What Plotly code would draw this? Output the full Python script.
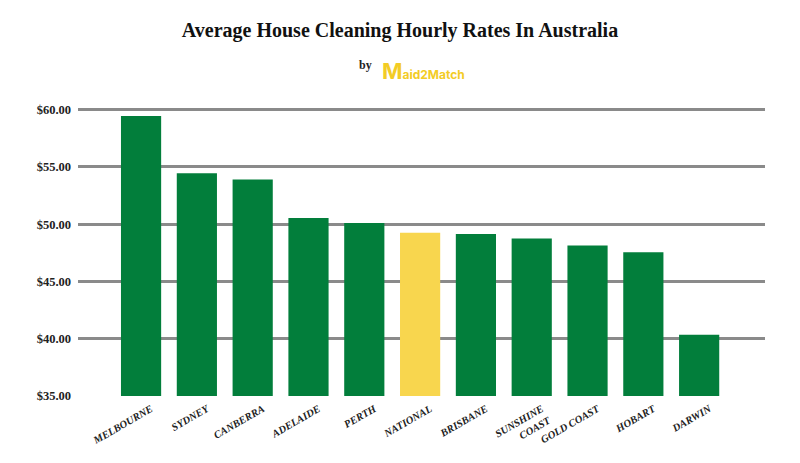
import plotly.graph_objects as go

# Data
cities = ["MELBOURNE", "SYDNEY", "CANBERRA", "ADELAIDE", "PERTH", "NATIONAL",
          "BRISBANE", "SUNSHINE<br>COAST", "GOLD COAST", "HOBART", "DARWIN"]
rates = [59.45, 54.45, 53.9, 50.55, 50.1, 49.25, 49.15, 48.75, 48.15, 47.55, 40.35]
tick_vals = [35, 40, 45, 50, 55, 60]
tick_text = ["$35.00", "$40.00", "$45.00", "$50.00", "$55.00", "$60.00"]

GREEN = "#027e3b"
YELLOW = "#f8d64e"
colors = [YELLOW if c == "NATIONAL" else GREEN for c in cities]
serif = "Liberation Serif, DejaVu Serif, serif"

fig = go.Figure(go.Bar(
    x=list(range(len(cities))), y=[r - 35 for r in rates], base=35,
    marker=dict(color=colors, line=dict(width=0)),
    width=0.72,
))

# page body adds an 8px offset, so margins are shifted to compensate
fig.update_layout(
    width=800, height=463,
    margin=dict(l=70, r=43, t=100, b=75, autoexpand=False),
    plot_bgcolor="white", paper_bgcolor="white",
    showlegend=False,
    font=dict(family=serif, color="#222"),
    title=dict(text="<b>Average House Cleaning Hourly Rates In Australia</b>",
               x=0.49, xanchor="center", y=0.952, yanchor="middle",
               font=dict(size=20, family=serif, color="#111")),
    xaxis=dict(range=[-1.13, 11.18], tickvals=list(range(len(cities))),
               ticktext=cities, tickangle=-30, showgrid=False, zeroline=False,
               automargin=False, ticklabelshift=10, ticklabelstandoff=4,
               tickfont=dict(size=10.5, family=serif, style="italic", weight="bold", color="#222")),
    yaxis=dict(range=[35, 60.15], tickvals=tick_vals, ticktext=tick_text,
               showgrid=True, gridcolor="#8a8a8a", gridwidth=3, zeroline=False,
               automargin=False, ticklabelstandoff=6,
               tickfont=dict(size=12.5, family=serif, weight="bold", color="#222")),
)

# "by Maid2Match" logo line
fig.add_annotation(text="by", x=0.419, y=1.179, xref="paper", yref="paper",
                   showarrow=False, font=dict(size=12, family=serif, weight="bold", color="#222"))
fig.add_annotation(text="<b><span style='font-size:22px'>M</span>aid2Match</b>",
                   x=0.44, y=1.179, xref="paper", yref="paper", xanchor="left",
                   showarrow=False, font=dict(size=12, family="Inter, sans-serif", color="#f3cc25"))

fig.write_html("out.html")
